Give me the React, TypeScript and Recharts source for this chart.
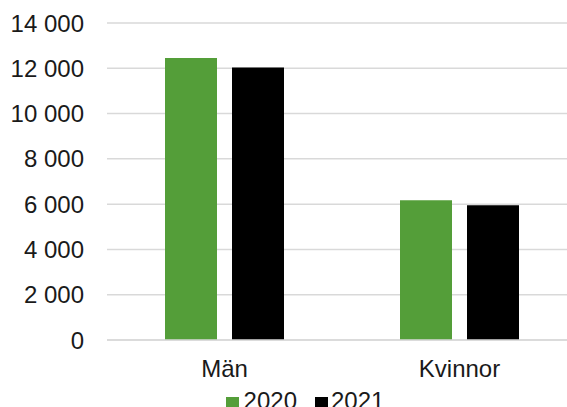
import React from "react";
import { BarChart, Bar, XAxis, YAxis, CartesianGrid, Legend } from "recharts";

const categories = ["Män", "Kvinnor"];
const values2020 = [12450, 6170];
const values2021 = [12040, 5950];
const yTicks = [0, 2000, 4000, 6000, 8000, 10000, 12000, 14000];
const seriesNames = ["2020", "2021"];
const colors = ["#549e39", "#000000"];

const data = categories.map((c, i) => ({
  name: c,
  s2020: values2020[i],
  s2021: values2021[i],
}));

const fmt = (v: number) => String(v).replace(/\B(?=(\d{3})+(?!\d))/g, " ");

const FONT = "'Liberation Sans', Arial, sans-serif";

const LegendContent = (props: any) => {
  const payload = props.payload || [];
  return (
    <div style={{ display: "flex", justifyContent: "center", fontFamily: FONT, fontSize: 24, color: "#1a1a1a", lineHeight: "26px", paddingTop: 8, paddingLeft: 33 }}>
      {payload.map((p: any, i: number) => (
        <div key={i} style={{ display: "flex", alignItems: "center", marginRight: i === 0 ? 18 : 0 }}>
          <span style={{ display: "inline-block", width: 13, height: 13, background: p.color, marginRight: i === 0 ? 5 : 3, marginTop: 4 }} />
          <span>{p.value}</span>
        </div>
      ))}
    </div>
  );
};

export default function App() {
  return (
    <div style={{ position: "fixed", left: 0, top: 0, width: 567, height: 407, overflow: "hidden", background: "#fff" }}>
      <BarChart
        width={608}
        height={407}
        data={data}
        margin={{ top: 23, right: 31, left: 0, bottom: 0 }}
        barSize={52}
        barGap={15}
      >
        <CartesianGrid vertical={false} stroke="#d9d9d9" strokeWidth={1.5} />
        <XAxis
          dataKey="name"
          axisLine={{ stroke: "#d9d9d9", strokeWidth: 1.5 }}
          tickLine={false}
          tickSize={0}
          tickMargin={20}
          height={40}
          tick={{ fill: "#1a1a1a", fontSize: 24, fontFamily: FONT }}
        />
        <YAxis
          width={107}
          domain={[0, 14000]}
          ticks={yTicks}
          tickFormatter={fmt}
          axisLine={false}
          tickLine={false}
          tickSize={0}
          tickMargin={23}
          tick={{ fill: "#1a1a1a", fontSize: 24, fontFamily: FONT }}
        />
        <Legend verticalAlign="bottom" height={27} content={<LegendContent />} />
        <Bar dataKey="s2020" name={seriesNames[0]} fill={colors[0]} isAnimationActive={false} />
        <Bar dataKey="s2021" name={seriesNames[1]} fill={colors[1]} isAnimationActive={false} />
      </BarChart>
    </div>
  );
}
